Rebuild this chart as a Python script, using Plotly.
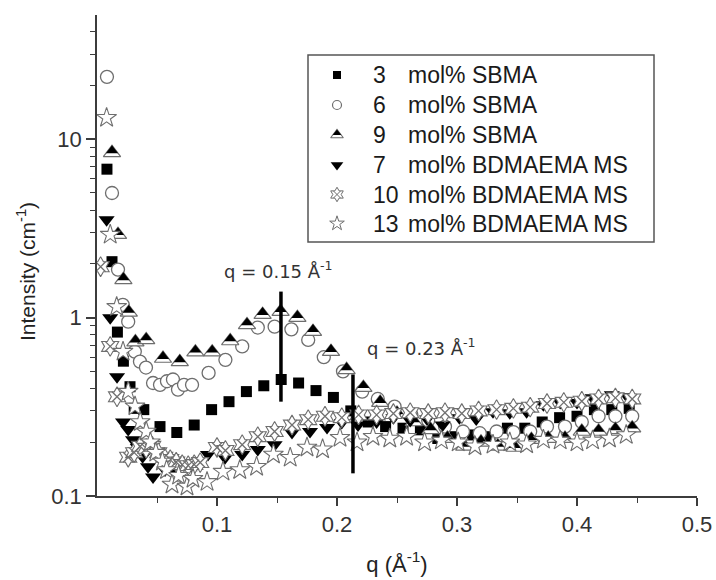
import math
import plotly.graph_objects as go

# ---------------- data ----------------
q_3sbma = [0.0083, 0.0125, 0.017, 0.022, 0.0275, 0.031, 0.039, 0.0525, 0.0665,
           0.081, 0.0955, 0.110, 0.1245, 0.139, 0.1535, 0.168, 0.1825, 0.197, 0.2115,
           0.226, 0.2405, 0.255, 0.2695, 0.284, 0.2985, 0.313, 0.3275, 0.342, 0.3565,
           0.371, 0.3855, 0.400, 0.4145, 0.429, 0.4435]
i_3sbma = [6.8, 2.06, 0.83, 0.57, 0.41, 0.31, 0.305, 0.245, 0.227,
           0.25, 0.305, 0.338, 0.385, 0.415, 0.45, 0.43, 0.39, 0.357, 0.30,
           0.26, 0.245, 0.24, 0.235, 0.21, 0.215, 0.22, 0.215, 0.24, 0.24,
           0.26, 0.275, 0.28, 0.305, 0.305, 0.31]

q_6sbma = [0.0083, 0.0125, 0.0175, 0.0215, 0.026, 0.0315, 0.0358, 0.0408, 0.0467,
           0.0525, 0.0583, 0.0633, 0.0675, 0.0725, 0.0792, 0.093, 0.107, 0.121, 0.134,
           0.148, 0.162, 0.176, 0.189, 0.205, 0.221, 0.234, 0.248, 0.262, 0.276, 0.29,
           0.305, 0.319, 0.333, 0.347, 0.361, 0.375, 0.39, 0.404, 0.418, 0.432, 0.446]
i_6sbma = [22.4, 5.0, 1.86, 1.18, 0.95, 0.645, 0.567, 0.525, 0.43,
           0.42, 0.44, 0.45, 0.395, 0.42, 0.42, 0.49, 0.58, 0.69, 0.88,
           0.89, 0.86, 0.75, 0.60, 0.50, 0.385, 0.35, 0.317, 0.285, 0.265, 0.245,
           0.23, 0.225, 0.23, 0.228, 0.23, 0.245, 0.245, 0.26, 0.28, 0.28, 0.28]

q_9sbma = [0.0125, 0.0175, 0.022, 0.0265, 0.032, 0.041, 0.055, 0.069, 0.082, 0.096,
           0.111, 0.125, 0.138, 0.153, 0.167, 0.180, 0.195, 0.208, 0.222, 0.236,
           0.25, 0.264, 0.278, 0.292, 0.306, 0.32, 0.334, 0.348, 0.362, 0.376,
           0.39, 0.404, 0.418, 0.432, 0.446]
i_9sbma = [8.4, 2.92, 1.63, 1.07, 0.73, 0.75, 0.59, 0.565, 0.64, 0.64,
           0.74, 0.91, 1.04, 1.08, 1.0, 0.835, 0.645, 0.51, 0.405, 0.334,
           0.29, 0.26, 0.235, 0.21, 0.19, 0.2, 0.19, 0.187, 0.207, 0.21,
           0.21, 0.23, 0.23, 0.235, 0.24]

q_7bd = [0.008, 0.011, 0.0167, 0.0217, 0.026, 0.030, 0.034, 0.038, 0.0425, 0.0467,
         0.0567, 0.065, 0.079, 0.0925, 0.1067, 0.121, 0.134, 0.148, 0.1625, 0.1775,
         0.1917, 0.204, 0.2175, 0.233, 0.247, 0.261, 0.275, 0.288, 0.302, 0.316,
         0.33, 0.344, 0.358, 0.372, 0.386, 0.4, 0.413, 0.429, 0.442]
i_7bd = [3.54, 1.0, 0.467, 0.26, 0.236, 0.207, 0.187, 0.166, 0.146, 0.128,
         0.14, 0.14, 0.146, 0.171, 0.164, 0.171, 0.182, 0.194, 0.227, 0.23,
         0.242, 0.258, 0.25, 0.26, 0.275, 0.265, 0.27, 0.25, 0.275, 0.27,
         0.297, 0.293, 0.297, 0.325, 0.334, 0.334, 0.356, 0.37, 0.36]

q_10bd = [0.003, 0.011, 0.0167, 0.026, 0.031, 0.036, 0.041, 0.046, 0.051, 0.056,
          0.061, 0.066, 0.071, 0.076, 0.081, 0.086, 0.1, 0.107, 0.121, 0.134,
          0.148, 0.1625, 0.176, 0.19, 0.204, 0.218, 0.233, 0.247, 0.261, 0.276,
          0.29, 0.304, 0.318, 0.333, 0.347, 0.361, 0.375, 0.389, 0.404, 0.418,
          0.432, 0.446]
i_10bd = [1.93, 0.69, 0.36, 0.165, 0.175, 0.19, 0.185, 0.19, 0.175, 0.165,
          0.16, 0.155, 0.15, 0.148, 0.15, 0.154, 0.187, 0.18, 0.194, 0.215,
          0.23, 0.25, 0.268, 0.28, 0.275, 0.285, 0.285, 0.29, 0.293, 0.29,
          0.293, 0.29, 0.3, 0.305, 0.31, 0.315, 0.33, 0.335, 0.34, 0.35,
          0.355, 0.35]

q_13bd = [0.008, 0.011, 0.0164, 0.0217, 0.026, 0.0317, 0.036, 0.041, 0.0445, 0.049,
          0.0545, 0.058, 0.0625, 0.068, 0.075, 0.08, 0.0917, 0.105, 0.119, 0.133,
          0.147, 0.161, 0.175, 0.188, 0.2025, 0.2167, 0.23, 0.244, 0.258, 0.273,
          0.287, 0.301, 0.315, 0.33, 0.344, 0.358, 0.372, 0.386, 0.4, 0.413,
          0.427, 0.441]
i_13bd = [13.2, 2.92, 1.15, 0.645, 0.385, 0.318, 0.26, 0.23, 0.2, 0.175,
          0.156, 0.14, 0.116, 0.13, 0.113, 0.125, 0.12, 0.137, 0.14, 0.146,
          0.171, 0.164, 0.187, 0.183, 0.212, 0.2, 0.215, 0.21, 0.215, 0.2,
          0.205, 0.2, 0.19, 0.194, 0.2, 0.195, 0.207, 0.205, 0.2, 0.205,
          0.21, 0.22]

legend_num = ["3", "6", "9", "7", "10", "13"]
legend_rest = ["mol% SBMA", "mol% SBMA", "mol% SBMA",
               "mol% BDMAEMA MS", "mol% BDMAEMA MS", "mol% BDMAEMA MS"]

# peak markers (vertical bars) and their labels
peak_q = [0.1533, 0.2133]
peak_lo = [0.338, 0.134]
peak_hi = [1.40, 0.48]
peak_labels = ["q = 0.15 Å<sup>-1</sup>", "q = 0.23 Å<sup>-1</sup>"]

x_ticks = [0.1, 0.2, 0.3, 0.4, 0.5]
x_minor = [0.05, 0.15, 0.25, 0.35, 0.45]
y_ticks = [0.1, 1, 10]
y_ticktext = ["0.1", "1", "10"]
y_minor = [0.2, 0.3, 0.4, 0.5, 0.6, 0.7, 0.8, 0.9, 2, 3, 4, 5, 6, 7, 8, 9, 20, 30, 40, 50]

# ---------------- layout constants ----------------
W, H = 716, 580
MARG = dict(l=97, r=19, t=15, b=84)
PW = W - MARG['l'] - MARG['r']
PH = H - MARG['t'] - MARG['b']
Y_RANGE = [-1, 1.697]
PPD = PH / (Y_RANGE[1] - Y_RANGE[0])  # px per decade
GRAY = '#6e6e6e'
AX = '#3c3c3c'
FONT = 'Liberation Sans, Arial, sans-serif'


def px_x(px):  # page pixel -> paper fraction
    return (px - MARG['l']) / PW


def px_y(py):
    return (H - MARG['b'] - py) / PH


fig = go.Figure()

# 3 mol% SBMA - filled squares
fig.add_trace(go.Scatter(x=q_3sbma, y=i_3sbma, mode='markers', showlegend=False,
                         marker=dict(symbol='square', size=11, color='black', line=dict(width=0))))
# 6 mol% SBMA - open circles
fig.add_trace(go.Scatter(x=q_6sbma, y=i_6sbma, mode='markers', showlegend=False,
                         marker=dict(symbol='circle', size=13, color='white',
                                     line=dict(color=GRAY, width=1.3))))
# 9 mol% SBMA - triangle with black top and white base
TRI = 15
K = 0.70
shift = 10 ** ((TRI / 2) * (1 - K) / PPD)
fig.add_trace(go.Scatter(x=q_9sbma, y=i_9sbma, mode='markers', showlegend=False,
                         marker=dict(symbol='triangle-up', size=TRI, color='white',
                                     line=dict(color=GRAY, width=1.2))))
fig.add_trace(go.Scatter(x=q_9sbma, y=[v * shift for v in i_9sbma], mode='markers', showlegend=False,
                         marker=dict(symbol='triangle-up', size=TRI * K, color='black', line=dict(width=0))))
# 7 mol% BDMAEMA MS - filled down triangles
fig.add_trace(go.Scatter(x=q_7bd, y=i_7bd, mode='markers', showlegend=False,
                         marker=dict(symbol='triangle-down', size=14, color='black', line=dict(width=0))))
# 10 mol% BDMAEMA MS - hatched hexagram
fig.add_trace(go.Scatter(x=q_10bd, y=i_10bd, mode='markers', showlegend=False,
                         marker=dict(symbol='hexagram', size=15, color='white',
                                     line=dict(color=GRAY, width=1.1))))
fig.add_trace(go.Scatter(x=q_10bd, y=i_10bd, mode='markers', showlegend=False,
                         marker=dict(symbol='x-thin-open', size=10, color='#707070',
                                     line=dict(color='#707070', width=1.3))))
# 13 mol% BDMAEMA MS - open stars
fig.add_trace(go.Scatter(x=q_13bd, y=i_13bd, mode='markers', showlegend=False,
                         marker=dict(symbol='star', size=15, color='white',
                                     line=dict(color=GRAY, width=1.1))))

# peak bars
for xq, lo, hi in zip(peak_q, peak_lo, peak_hi):
    fig.add_trace(go.Scatter(x=[xq, xq], y=[lo, hi], mode='lines', showlegend=False,
                             line=dict(color='black', width=3.5), hoverinfo='skip'))

# ---------------- legend box (drawn by hand for exact spacing) ----------------
LEG_ROWS_PX = [75, 105, 135, 165, 194.5, 223.5]
LEG_SYM_X = px_x(337)
LEG_NUM_X = px_x(371)
LEG_TXT_X = px_x(406)
leg_y = [px_y(v) for v in LEG_ROWS_PX]


def leg_sym(idx, marker, dy_px=0.0):
    fig.add_trace(go.Scatter(x=[LEG_SYM_X], y=[leg_y[idx] + dy_px / PH], mode='markers',
                             xaxis='x2', yaxis='y2', showlegend=False, hoverinfo='skip',
                             marker=marker))


leg_sym(0, dict(symbol='square', size=8, color='black', line=dict(width=0)))
leg_sym(1, dict(symbol='circle', size=9, color='white', line=dict(color=GRAY, width=1.2)))
LT, LK = 11, 0.68
leg_sym(2, dict(symbol='triangle-up', size=LT, color='white', line=dict(color=GRAY, width=1.1)))
leg_sym(2, dict(symbol='triangle-up', size=LT * LK, color='black', line=dict(width=0)),
        dy_px=(LT / 2) * (1 - LK))
leg_sym(3, dict(symbol='triangle-down', size=11, color='black', line=dict(width=0)))
leg_sym(4, dict(symbol='hexagram', size=11, color='white', line=dict(color=GRAY, width=1)))
leg_sym(4, dict(symbol='x-thin-open', size=7, color=GRAY, line=dict(color=GRAY, width=1)))
leg_sym(5, dict(symbol='star', size=11, color='white', line=dict(color=GRAY, width=1)))

for yv, num, rest in zip(leg_y, legend_num, legend_rest):
    fig.add_annotation(x=LEG_NUM_X, y=yv, xref='paper', yref='paper', text=num,
                       showarrow=False, xanchor='left', yanchor='middle',
                       font=dict(family=FONT, size=23, color='#1a1a1a'))
    fig.add_annotation(x=LEG_TXT_X, y=yv, xref='paper', yref='paper', text=rest,
                       showarrow=False, xanchor='left', yanchor='middle',
                       font=dict(family=FONT, size=23, color='#1a1a1a'))

fig.add_shape(type='rect', xref='paper', yref='paper',
              x0=px_x(308), x1=px_x(654), y0=px_y(242), y1=px_y(55),
              line=dict(color='#555555', width=1.5), fillcolor='rgba(0,0,0,0)', layer='above')

# peak labels
ann_x = [0.104, 0.223]
ann_y = [0.269, -0.162]
for txt, ax_, ay_ in zip(peak_labels, ann_x, ann_y):
    fig.add_annotation(x=ax_, y=ay_, xref='x', yref='y', text=txt, showarrow=False,
                       xanchor='left', yanchor='middle',
                       font=dict(family='DejaVu Sans', size=18, color='#333333'))

# y-axis title (placed as in the reference, slightly below the plot centre)
fig.add_annotation(x=px_x(26), y=px_y(272), xref='paper', yref='paper',
                   text='Intensity (cm<sup>-1</sup>)', textangle=-90, showarrow=False,
                   xanchor='center', yanchor='middle',
                   font=dict(family=FONT, size=21, color='#222222'))

fig.update_layout(
    width=W, height=H, margin=dict(**MARG, pad=0, autoexpand=False),
    paper_bgcolor='white', plot_bgcolor='white',
    font=dict(family=FONT, color='#2a2a2a'),
    showlegend=False,
    xaxis=dict(range=[0, 0.5], showgrid=False, zeroline=False, automargin=False,
               showline=True, linecolor=AX, linewidth=1.5,
               ticks='outside', ticklen=8, tickwidth=1.5, tickcolor=AX,
               tickvals=x_ticks, ticktext=[str(v) for v in x_ticks],
               tickfont=dict(size=22, color='#333333'),
               minor=dict(tickvals=x_minor, ticks='outside', ticklen=5, tickwidth=1.3, tickcolor=AX),
               title=dict(text='q (Å<sup>-1</sup>)', font=dict(size=22, color='#222222'), standoff=20)),
    yaxis=dict(type='log', range=Y_RANGE, showgrid=False, zeroline=False, automargin=False,
               showline=True, linecolor=AX, linewidth=1.5,
               ticks='outside', ticklen=9, tickwidth=1.5, tickcolor=AX,
               tickvals=y_ticks, ticktext=y_ticktext,
               tickfont=dict(size=22, color='#333333'),
               minor=dict(tickvals=y_minor, ticks='outside', ticklen=5, tickwidth=1.3, tickcolor=AX)),
    xaxis2=dict(overlaying='x', range=[0, 1], visible=False, fixedrange=True),
    yaxis2=dict(overlaying='y', range=[0, 1], visible=False, fixedrange=True),
)

fig.write_html('out.html')
